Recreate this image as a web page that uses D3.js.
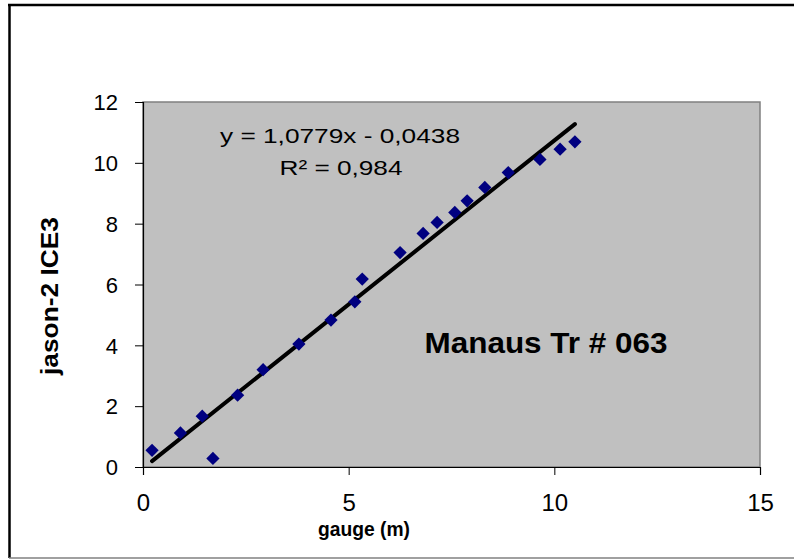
<!DOCTYPE html>
<html><head><meta charset="utf-8">
<script src="https://cdn.jsdelivr.net/npm/d3@7"></script>
<style>body{margin:0;background:#fff}svg{display:block}text{font-family:"Liberation Sans",Arial,sans-serif}</style>
</head><body>
<svg id="c" width="794" height="560"></svg>
<script>
const gaugeX = [0.22,0.91,1.44,1.70,2.30,2.92,3.79,4.57,5.15,5.33,6.25,6.81,7.15,7.58,7.88,8.31,8.88,9.65,10.14,10.50];
const jasonY = [0.55,1.12,1.67,0.28,2.36,3.20,4.04,4.83,5.43,6.18,7.05,7.68,8.04,8.37,8.75,9.19,9.68,10.11,10.45,10.69];
const xTicks = [0,5,10,15];
const yTicks = [0,2,4,6,8,10,12];
const slope = 1.0779, intercept = -0.0438;
const eqText = "y = 1,0779x - 0,0438";
const r2Text = "R² = 0,984";
const titleText = "Manaus Tr # 063";
const xLabel = "gauge (m)";
const yLabel = "jason-2 ICE3";

const svg = d3.select("#c");
const L=143, R=760, T=102, B=467;
const x = d3.scaleLinear().domain([0,15]).range([L,R]);
const y = d3.scaleLinear().domain([0,12]).range([B,T]);

// outer frame
svg.append("line").attr("x1",9.5).attr("x2",9.5).attr("y1",4).attr("y2",558).attr("stroke","#000").attr("stroke-width",2.5);
svg.append("line").attr("x1",8).attr("x2",794).attr("y1",5).attr("y2",5).attr("stroke","#000").attr("stroke-width",2.5);
svg.append("line").attr("x1",9).attr("x2",794).attr("y1",558).attr("y2",558).attr("stroke","#808080").attr("stroke-width",1.5);

// plot area
svg.append("rect").attr("x",L).attr("y",T).attr("width",R-L).attr("height",B-T)
  .attr("fill","#c0c0c0").attr("stroke","#808080").attr("stroke-width",1.5);

// axes
const xa = svg.append("g").attr("transform",`translate(0,${B})`)
  .call(d3.axisBottom(x).tickValues(xTicks).tickSize(8).tickFormat(d3.format("d")));
xa.select(".domain").attr("stroke","#000").attr("stroke-width",1.2);
xa.selectAll(".tick line").attr("stroke","#000");
xa.selectAll(".tick text").attr("font-size",24).attr("font-family","Liberation Sans, Arial, sans-serif").attr("fill","#000").attr("y",null).attr("dy",null).attr("transform","translate(0,44)");

const ya = svg.append("g").attr("transform",`translate(${L},0)`)
  .call(d3.axisLeft(y).tickValues(yTicks).tickSize(8).tickFormat(d3.format("d")));
ya.select(".domain").attr("stroke","#000").attr("stroke-width",1.2);
ya.selectAll(".tick line").attr("stroke","#000");
ya.selectAll(".tick text").attr("font-size",22).attr("font-family","Liberation Sans, Arial, sans-serif").attr("fill","#000").attr("x",-25).attr("dy","0.35em");

// trend line
const xmin = d3.min(gaugeX), xmax = d3.max(gaugeX);
svg.append("line").attr("x1",x(xmin)).attr("y1",y(slope*xmin+intercept))
  .attr("x2",x(xmax)).attr("y2",y(slope*xmax+intercept))
  .attr("stroke","#000").attr("stroke-width",4).attr("stroke-linecap","round");

// points
const sym = d3.symbol().type(d3.symbolSquare).size(88);
svg.append("g").selectAll("path").data(gaugeX.map((g,i)=>[g,jasonY[i]])).join("path")
  .attr("d",sym).attr("fill","#000080")
  .attr("transform",d=>`translate(${x(d[0])},${y(d[1])}) rotate(45)`);

// texts
svg.append("text").attr("x",340).attr("y",143).attr("text-anchor","middle").attr("font-size",21)
  .attr("textLength",240).attr("lengthAdjust","spacingAndGlyphs").text(eqText);
svg.append("text").attr("x",341).attr("y",175).attr("text-anchor","middle").attr("font-size",21)
  .attr("textLength",123).attr("lengthAdjust","spacingAndGlyphs").text(r2Text);
svg.append("text").attr("x",546).attr("y",353).attr("text-anchor","middle").attr("font-size",29).attr("font-weight","bold")
  .attr("textLength",243).attr("lengthAdjust","spacingAndGlyphs").text(titleText);
svg.append("text").attr("x",364).attr("y",536).attr("text-anchor","middle").attr("font-size",21).attr("font-weight","bold")
  .attr("textLength",92).attr("lengthAdjust","spacingAndGlyphs").text(xLabel);
svg.append("text").attr("transform","translate(58,296) rotate(-90)").attr("text-anchor","middle").attr("font-size",23).attr("font-weight","bold")
  .attr("textLength",158).attr("lengthAdjust","spacingAndGlyphs").text(yLabel);
</script>
</body></html>
